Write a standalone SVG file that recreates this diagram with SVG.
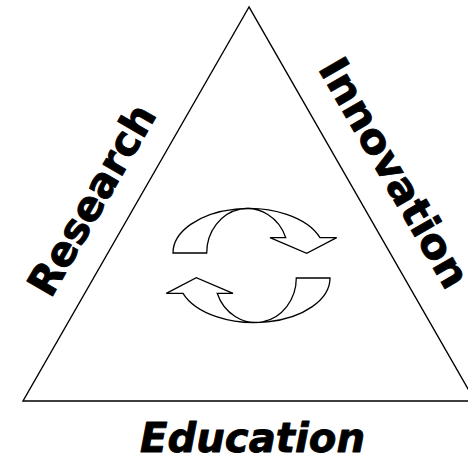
<svg xmlns="http://www.w3.org/2000/svg" width="468" height="460" viewBox="0 0 468 460">
  <style>
    .edge { fill: none; stroke: #000; stroke-width: 1.4; stroke-linejoin: miter; }
    .arrow { fill: #fff; stroke: #000; stroke-width: 1.3; stroke-linejoin: miter; }
    .label { font-family: "DejaVu Sans", Verdana, sans-serif; font-weight: bold; font-size: 41px; fill: #000; stroke: #000; stroke-width: 0.9; stroke-linejoin: round; }
    .italic { font-style: italic; }
  </style>
  <rect width="468" height="460" fill="#fff"/>

  <!-- triangle frame -->
  <g id="triangle">
    <polygon class="edge" points="249,7 23,401 475,401"/>
  </g>

  <!-- side labels -->
  <g id="research">
    <text class="label" x="0" y="0" text-anchor="middle" transform="translate(104,207) rotate(-60)" textLength="213" lengthAdjust="spacingAndGlyphs">Research</text>
  </g>
  <g id="innovation">
    <text class="label" x="0" y="0" text-anchor="middle" transform="translate(382,180) rotate(60)" textLength="258" lengthAdjust="spacingAndGlyphs">Innovation</text>
  </g>
  <g id="education">
    <text class="label italic" x="252.5" y="452" text-anchor="middle" textLength="225" lengthAdjust="spacingAndGlyphs">Education</text>
  </g>

  <!-- cycle arrows in the middle -->
  <g id="cycle">
    <defs>
      <path id="curved-arrow" d="M 173 253 A 75.8 44.5 0 0 1 320 237.7 L 336.7 237.7 L 306.7 253.3 L 270 237.7 L 285.8 237.7 A 40.8 44.5 0 0 0 206.7 253 Z"/>
    </defs>
    <use href="#curved-arrow" class="arrow"/>
    <use href="#curved-arrow" class="arrow" transform="rotate(180 251.5 265.5)"/>
  </g>
</svg>
